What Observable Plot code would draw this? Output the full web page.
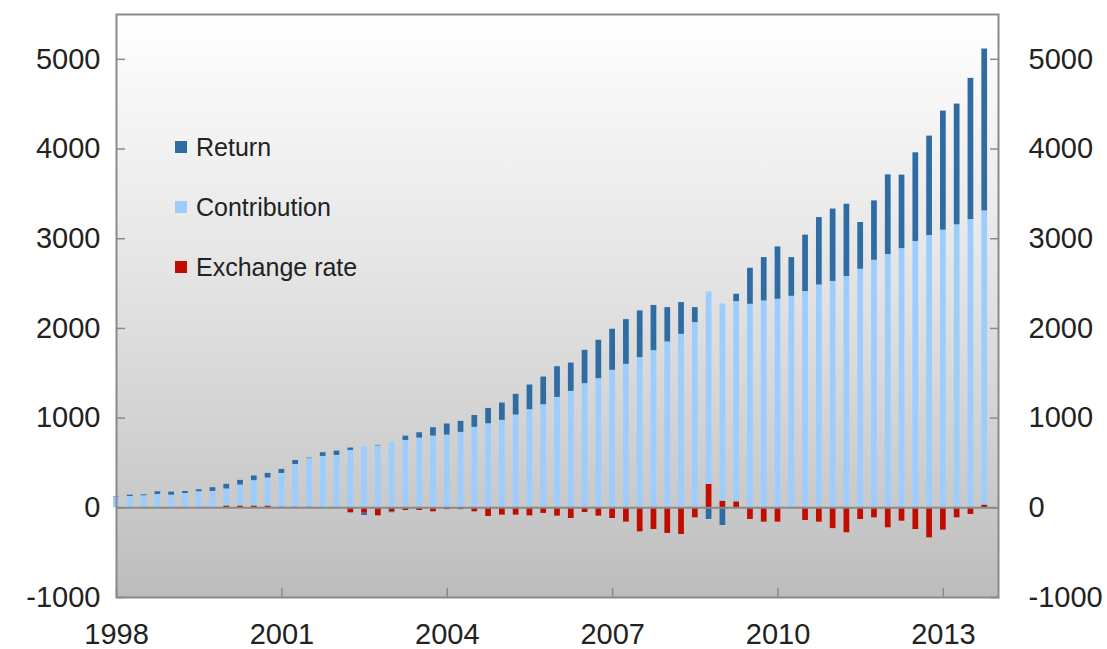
<!DOCTYPE html>
<html>
<head>
<meta charset="utf-8">
<script src="https://cdn.jsdelivr.net/npm/d3@7"></script>
<script src="https://cdn.jsdelivr.net/npm/@observablehq/plot@0.6"></script>
<style>
  html, body { margin: 0; padding: 0; background: #ffffff; }
  #wrap { position: relative; width: 1107px; height: 649px; font-family: "Liberation Sans", Arial, sans-serif; }
  #legend { position: absolute; left: 175px; top: 133px; }
  .item { display: flex; align-items: center; height: 28px; margin-bottom: 32px; font-size: 25px; color: #222; }
  .sw { width: 12px; height: 12px; margin-right: 9px; }
</style>
</head>
<body>
<div id="wrap"><div id="legend"></div></div>
<script>
// Quarterly categories
const quarters = [
  "1998Q1","1998Q2","1998Q3","1998Q4","1999Q1","1999Q2","1999Q3","1999Q4",
  "2000Q1","2000Q2","2000Q3","2000Q4","2001Q1","2001Q2","2001Q3","2001Q4",
  "2002Q1","2002Q2","2002Q3","2002Q4","2003Q1","2003Q2","2003Q3","2003Q4",
  "2004Q1","2004Q2","2004Q3","2004Q4","2005Q1","2005Q2","2005Q3","2005Q4",
  "2006Q1","2006Q2","2006Q3","2006Q4","2007Q1","2007Q2","2007Q3","2007Q4",
  "2008Q1","2008Q2","2008Q3","2008Q4","2009Q1","2009Q2","2009Q3","2009Q4",
  "2010Q1","2010Q2","2010Q3","2010Q4","2011Q1","2011Q2","2011Q3","2011Q4",
  "2012Q1","2012Q2","2012Q3","2012Q4","2013Q1","2013Q2","2013Q3","2013Q4"
];
const contribution = [
  120,126,134,149,141,160,179,178,
  190,234,283,312,375,475,540,573,
  584,640,681,690,733,751,777,800,
  811,841,897,937,975,1034,1094,1149,
  1231,1298,1384,1440,1533,1600,1674,1752,
  1849,1934,2065,2146,2199,2232,2269,2306,
  2325,2358,2411,2485,2524,2578,2660,2760,
  2823,2890,2969,3036,3095,3155,3214,3281
];
const returns = [
  5,15,11,30,34,22,22,41,
  52,52,52,52,45,45,6,41,
  48,26,-25,6,-10,48,60,93,
  123,123,132,171,193,231,275,309,
  342,316,372,428,458,498,521,504,
  383,354,167,-130,-197,82,402,484,
  584,432,629,751,807,807,521,662,
  889,819,989,1108,1328,1346,1574,1804
];
const exchangeRate = [
  0,0,0,0,0,0,0,5,
  20,20,20,20,8,8,8,0,
  0,-56,-60,-90,-45,-30,-30,-45,
  -20,-20,-45,-97,-82,-82,-90,-63,
  -93,-119,-52,-93,-119,-160,-268,-242,
  -286,-298,-112,260,74,67,-130,-160,
  -160,0,-141,-160,-232,-279,-130,-112,
  -223,-149,-242,-335,-249,-112,-74,30
];
const seriesNames = ["Exchange rate", "Contribution", "Return"];
const seriesColors = ["#c00d00", "#9dcdfc", "#2f6ca3"];
const legendOrder = ["Return", "Contribution", "Exchange rate"];
const xTicks = [1998, 2001, 2004, 2007, 2010, 2013];
const yTicks = [-1000, 0, 1000, 2000, 3000, 4000, 5000];

// Long table, stacked in order: exchange rate, contribution, return
const qTime = q => +q.slice(0, 4) + (+q.slice(5) - 1) / 4;
const rows = [];
quarters.forEach((q, i) => {
  rows.push({t: qTime(q), series: "Exchange rate", value: exchangeRate[i]});
  rows.push({t: qTime(q), series: "Contribution", value: contribution[i]});
  rows.push({t: qTime(q), series: "Return", value: returns[i]});
});

const halfBar = 0.052;
const defs = () => {
  const g = document.createElementNS("http://www.w3.org/2000/svg", "g");
  g.innerHTML = `<defs><linearGradient id="bgGrad" x1="0" y1="0" x2="0" y2="1">
    <stop offset="0" stop-color="#ffffff"/>
    <stop offset="0.45" stop-color="#e4e4e4"/>
    <stop offset="0.84" stop-color="#c9c9c9"/>
    <stop offset="1" stop-color="#bcbcbc"/>
  </linearGradient></defs>`;
  return g;
};

const axisStyle = {fontSize: 29, stroke: "#8a8a8a", strokeWidth: 1.5, label: null, color: "#222"};

const chart = Plot.plot({
  width: 1107,
  height: 649,
  marginLeft: 116,
  marginRight: 109,
  marginTop: 14,
  marginBottom: 52,
  style: {fontFamily: "'Liberation Sans', Arial, sans-serif", color: "#222", background: "transparent", overflow: "visible"},
  x: {domain: [1998, 2014]},
  y: {domain: [-1000, 5500]},
  color: {domain: seriesNames, range: seriesColors},
  marks: [
    defs,
    Plot.frame({fill: "url(#bgGrad)"}),
    Plot.rectY(rows, Plot.stackY({
      x1: d => d.t - halfBar,
      x2: d => d.t + halfBar,
      y: "value",
      fill: "series"
    })),
    Plot.ruleY([0], {stroke: "#8a8a8a", strokeWidth: 2}),
    Plot.axisX({ticks: xTicks, tickFormat: d => String(d), tickSize: -9, tickPadding: 35, ...axisStyle}),
    Plot.axisY({anchor: "left", ticks: yTicks, tickFormat: d => String(d), tickSize: -9, tickPadding: 25, ...axisStyle}),
    Plot.axisY({anchor: "right", ticks: yTicks, tickFormat: d => String(d), tickSize: -9, tickPadding: 39, ...axisStyle}),
    Plot.frame({stroke: "#8a8a8a", strokeWidth: 2})
  ]
});
document.getElementById("wrap").prepend(chart);

const legend = document.getElementById("legend");
legendOrder.forEach(name => {
  const item = document.createElement("div");
  item.className = "item";
  const sw = document.createElement("span");
  sw.className = "sw";
  sw.style.background = seriesColors[seriesNames.indexOf(name)];
  const label = document.createElement("span");
  label.textContent = name;
  item.append(sw, label);
  legend.append(item);
});
</script>
</body>
</html>
